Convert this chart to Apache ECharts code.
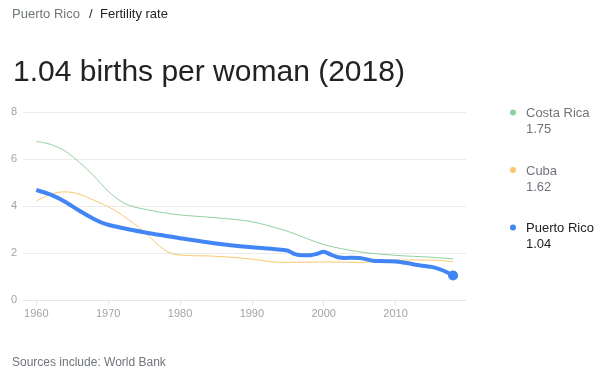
<!DOCTYPE html>
<html>
<head>
<meta charset="utf-8">
<script src="https://cdn.jsdelivr.net/npm/echarts@6/dist/echarts.min.js"></script>
<style>
html,body{margin:0;padding:0;background:#fff;}
#c{width:605px;height:383px;}
</style>
</head>
<body>
<div id="c"></div>
<script>
// Data
const costaRicaYears = [1960, 1961, 1962, 1963, 1964, 1965, 1966, 1967, 1968, 1969, 1970, 1971, 1972, 1973, 1974, 1975, 1977, 1980, 1985, 1990, 1995, 2000, 2005, 2010, 2015, 2018];
const costaRicaVals  = [6.74, 6.7, 6.62, 6.5, 6.34, 6.12, 5.86, 5.58, 5.28, 4.95, 4.63, 4.37, 4.16, 4.02, 3.93, 3.87, 3.75, 3.62, 3.5, 3.33, 2.92, 2.36, 2.05, 1.9, 1.82, 1.75];

const cubaYears = [1960, 1962, 1964, 1966, 1968, 1970, 1972, 1975, 1978, 1980, 1985, 1990, 1993, 1995, 2000, 2005, 2008, 2010, 2015, 2018];
const cubaVals  = [4.2, 4.5, 4.6, 4.5, 4.25, 3.97, 3.6, 2.9, 2.1, 1.92, 1.86, 1.74, 1.62, 1.6, 1.62, 1.6, 1.65, 1.7, 1.7, 1.62];

const prYears = [1960, 1962, 1964, 1966, 1968, 1970, 1975, 1980, 1985, 1990, 1994, 1995, 1996, 1997, 1998, 1999, 2000, 2001, 2002, 2003, 2004, 2005, 2006, 2007, 2008, 2009, 2010, 2011, 2012, 2013, 2014, 2015, 2016, 2017, 2018];
const prVals  = [4.68, 4.48, 4.18, 3.8, 3.45, 3.2, 2.88, 2.63, 2.4, 2.24, 2.14, 2.1, 1.95, 1.9, 1.9, 1.96, 2.05, 1.93, 1.82, 1.79, 1.8, 1.79, 1.73, 1.66, 1.66, 1.65, 1.64, 1.6, 1.55, 1.49, 1.45, 1.41, 1.32, 1.2, 1.04];

const xTickLabels = [1960, 1970, 1980, 1990, 2000, 2010];
const legendNames = ['Costa Rica', 'Cuba', 'Puerto Rico'];
const legendValues = ['1.75', '1.62', '1.04'];

const colors = ['#8fd19e', '#fbc76c', '#4285f4'];
const font = '"Liberation Sans", Arial, sans-serif';

function pairs(xs, ys){ return xs.map((x,i)=>[x, ys[i]]); }

const chart = echarts.init(document.getElementById('c'), null, {renderer:'canvas'});

const legendY = [112.5, 170, 227.5];
const graphics = [
  {type:'text', left:12, top:8, style:{text:'Puerto Rico', font:'13px '+font, fill:'#70757a'}},
  {type:'text', left:89, top:8, style:{text:'/', font:'13px '+font, fill:'#222'}},
  {type:'text', left:100, top:8, style:{text:'Fertility rate', font:'13px '+font, fill:'#222'}},
  {type:'text', left:13, top:58, style:{text:'1.04 births per woman (2018)', font:'30px '+font, fill:'#222'}},
  {type:'text', left:12, top:357, style:{text:'Sources include: World Bank', font:'12px '+font, fill:'#70757a'}}
];
legendNames.forEach((n,i)=>{
  graphics.push({type:'circle', shape:{cx:513, cy:legendY[i], r:3}, style:{fill:colors[i]}});
  graphics.push({type:'text', x:526, y:legendY[i]-5.5, style:{text:n, font:'13px '+font, fill: i===2 ? '#222' : '#70757a'}});
  graphics.push({type:'text', x:526, y:legendY[i]+10.5, style:{text:legendValues[i], font:'13px '+font, fill: i===2 ? '#222' : '#70757a'}});
});

chart.setOption({
  animation:false,
  backgroundColor:'#fff',
  grid:{left:23, right:139, top:112, bottom:83, containLabel:false},
  xAxis:{
    type:'value', min:1958.15, max:2019.8,
    axisLine:{show:true, lineStyle:{color:'#e6e6e6'}},
    axisTick:{show:true, length:5, lineStyle:{color:'#e6e6e6'}, customValues:xTickLabels},
    axisLabel:{color:'#a3a3a3', fontSize:11, fontFamily:font, margin:8, customValues:xTickLabels, formatter:v=>String(v)},
    splitLine:{show:false}
  },
  yAxis:{
    type:'value', min:0, max:8, interval:2,
    axisLine:{show:false}, axisTick:{show:false},
    axisLabel:{color:'#a3a3a3', fontSize:11, fontFamily:font, margin:6},
    splitLine:{lineStyle:{color:'#ebebeb', width:1}}
  },
  series:[
    {type:'line', data:pairs(costaRicaYears, costaRicaVals), smooth:0.3, showSymbol:false, lineStyle:{color:colors[0], width:1}, z:2},
    {type:'line', data:pairs(cubaYears, cubaVals), smooth:0.4, showSymbol:false, lineStyle:{color:colors[1], width:1}, z:2},
    {type:'line', data:pairs(prYears, prVals), smooth:0.25, showSymbol:false, lineStyle:{color:colors[2], width:4}, z:3,
     markPoint:{symbol:'circle', symbolSize:10, itemStyle:{color:colors[2]}, label:{show:false},
       data:[{coord:[prYears[prYears.length-1], prVals[prVals.length-1]]}]}}
  ],
  graphic:graphics
});
</script>
</body>
</html>
